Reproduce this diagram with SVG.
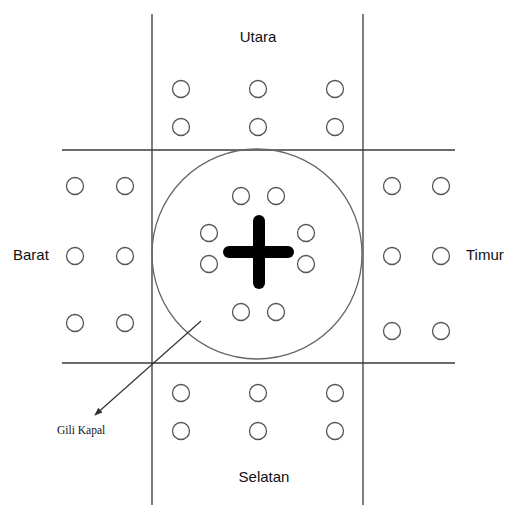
<svg xmlns="http://www.w3.org/2000/svg" width="505" height="506" viewBox="0 0 505 506">
<style>
.ln{stroke:#3a3a3a;stroke-width:1.3;fill:none}
.sc{fill:#fff;stroke:#555;stroke-width:1.3}
.lbl{font-family:"Liberation Sans",Arial,sans-serif;font-size:15px;fill:#111}
.ser{font-family:"Liberation Serif","Times New Roman",serif;font-size:11.5px;fill:#111}
</style>
<defs>
<marker id="ah" viewBox="0 0 10 10" refX="9" refY="5" markerWidth="8" markerHeight="8" markerUnits="userSpaceOnUse" orient="auto">
<path d="M0,1 L10,5 L0,9 Z" fill="#333"/>
</marker>
</defs>
<rect width="505" height="506" fill="#fff"/>
<g id="grid">
<line class="ln" x1="152" y1="14" x2="152" y2="505"/>
<line class="ln" x1="363" y1="14" x2="363" y2="505"/>
<line class="ln" x1="62" y1="150" x2="455" y2="150"/>
<line class="ln" x1="62" y1="363" x2="455" y2="363"/>
</g>
<g id="gili-kapal">
<circle cx="257" cy="254" r="105" fill="none" stroke="#666" stroke-width="1.3"/>
<line x1="259" y1="221" x2="259" y2="283" stroke="#000" stroke-width="12" stroke-linecap="round"/>
<line x1="229" y1="252" x2="288" y2="252" stroke="#000" stroke-width="12" stroke-linecap="round"/>
<circle class="sc" cx="241" cy="196" r="8.5"/>
<circle class="sc" cx="276" cy="196" r="8.5"/>
<circle class="sc" cx="209" cy="233" r="8.5"/>
<circle class="sc" cx="209" cy="264" r="8.5"/>
<circle class="sc" cx="306" cy="233" r="8.5"/>
<circle class="sc" cx="306" cy="264" r="8.5"/>
<circle class="sc" cx="241" cy="312" r="8.5"/>
<circle class="sc" cx="276" cy="312" r="8.5"/>
</g>
<g id="utara">
<text class="lbl" x="258" y="42" text-anchor="middle">Utara</text>
<circle class="sc" cx="181" cy="89" r="8.5"/>
<circle class="sc" cx="258" cy="89" r="8.5"/>
<circle class="sc" cx="335" cy="89" r="8.5"/>
<circle class="sc" cx="181" cy="127" r="8.5"/>
<circle class="sc" cx="258" cy="127" r="8.5"/>
<circle class="sc" cx="335" cy="127" r="8.5"/>
</g>
<g id="selatan">
<circle class="sc" cx="181" cy="393" r="8.5"/>
<circle class="sc" cx="258" cy="393" r="8.5"/>
<circle class="sc" cx="335" cy="393" r="8.5"/>
<circle class="sc" cx="181" cy="431" r="8.5"/>
<circle class="sc" cx="258" cy="431" r="8.5"/>
<circle class="sc" cx="335" cy="431" r="8.5"/>
<text class="lbl" x="264" y="482" text-anchor="middle">Selatan</text>
</g>
<g id="barat">
<text class="lbl" x="13" y="260">Barat</text>
<circle class="sc" cx="75" cy="186" r="8.5"/>
<circle class="sc" cx="125" cy="186" r="8.5"/>
<circle class="sc" cx="75" cy="256" r="8.5"/>
<circle class="sc" cx="125" cy="256" r="8.5"/>
<circle class="sc" cx="75" cy="323" r="8.5"/>
<circle class="sc" cx="125" cy="323" r="8.5"/>
</g>
<g id="timur">
<circle class="sc" cx="392" cy="186" r="8.5"/>
<circle class="sc" cx="441" cy="186" r="8.5"/>
<circle class="sc" cx="392" cy="256" r="8.5"/>
<circle class="sc" cx="441" cy="256" r="8.5"/>
<circle class="sc" cx="392" cy="331" r="8.5"/>
<circle class="sc" cx="441" cy="331" r="8.5"/>
<text class="lbl" x="466" y="260">Timur</text>
</g>
<g id="connectors">
<line x1="201" y1="321" x2="95" y2="415" stroke="#333" stroke-width="1.2" marker-end="url(#ah)"/>
</g>
<g id="label-gili">
<text class="ser" x="57" y="434">Gili Kapal</text>
</g>
</svg>
